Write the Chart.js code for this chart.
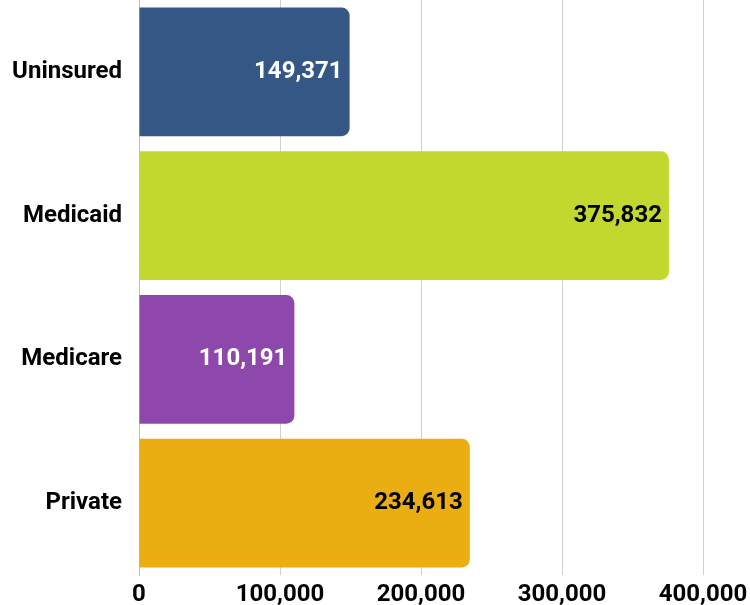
<!DOCTYPE html>
<html>
<head>
<meta charset="utf-8">
<script src="https://cdn.jsdelivr.net/npm/chart.js@4.4.1/dist/chart.umd.min.js"></script>
<style>
    body { margin: 0; background: #fff; }
    #wrap { width: 750px; height: 605px; position: relative; }
</style>
</head>
<body>
<div id="wrap"><canvas id="chart" width="750" height="605"></canvas></div>
<script>
var categories = ['Uninsured', 'Medicaid', 'Medicare', 'Private'];
var values = [149371, 375832, 110191, 234613];
var barColors = ['#345785', '#c2d82e', '#8e48ab', '#eaad12'];
var labelColors = ['#ffffff', '#000000', '#ffffff', '#000000'];
var xTicks = [0, 100000, 200000, 300000, 400000];

// Draw the value inside the end of each bar
var valueLabels = {
    id: 'valueLabels',
    afterDatasetsDraw: function (chart) {
        var ctx = chart.ctx;
        var meta = chart.getDatasetMeta(0);
        ctx.save();
        ctx.font = 'bold 24px Roboto';
        ctx.textAlign = 'right';
        ctx.textBaseline = 'middle';
        meta.data.forEach(function (bar, i) {
            ctx.fillStyle = labelColors[i];
            ctx.fillText(values[i].toLocaleString('en-US'), bar.x - 7, bar.y);
        });
        ctx.restore();
    }
};

var ctx = document.getElementById('chart').getContext('2d');
new Chart(ctx, {
    type: 'bar',
    data: {
        labels: categories,
        datasets: [{
            data: values,
            backgroundColor: barColors,
            borderRadius: 8,
            borderSkipped: 'start',
            barPercentage: 0.895,
            categoryPercentage: 1
        }]
    },
    options: {
        indexAxis: 'y',
        responsive: false,
        animation: false,
        layout: { padding: { top: -3, left: 0, right: 0, bottom: 0 } },
        plugins: {
            legend: { display: false },
            tooltip: { enabled: false }
        },
        scales: {
            x: {
                min: 0,
                max: 400000,
                afterBuildTicks: function (scale) {
                    scale.ticks = xTicks.map(function (v) { return { value: v }; });
                },
                afterFit: function (scale) {
                    scale.height = 30;
                    scale.paddingLeft = 0;
                    scale.paddingRight = 47;
                },
                grid: { color: '#d0d0d0', drawTicks: false, lineWidth: 1 },
                border: { display: false },
                ticks: {
                    color: '#000',
                    font: { family: 'Roboto', weight: 'bold', size: 24 },
                    padding: 6,
                    maxRotation: 0,
                    callback: function (v) { return v.toLocaleString('en-US'); }
                }
            },
            y: {
                grid: { display: false, drawTicks: false },
                border: { display: true, color: '#bdbdbd' },
                afterFit: function (scale) {
                    scale.width = 139;
                    scale.paddingTop = 0;
                    scale.paddingBottom = 0;
                },
                ticks: {
                    color: '#000',
                    font: { family: 'Roboto', weight: 'bold', size: 24 },
                    padding: 17
                }
            }
        }
    },
    plugins: [valueLabels]
});
</script>
</body>
</html>
